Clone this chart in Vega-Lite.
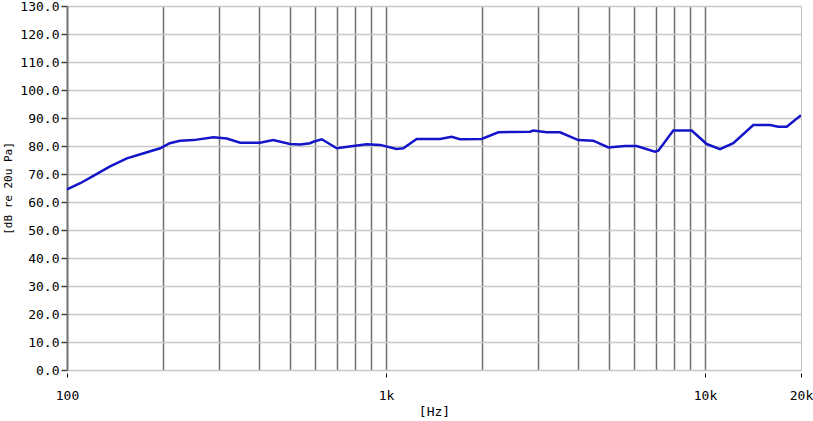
{
  "$schema": "https://vega.github.io/schema/vega-lite/v6.json",
  "autosize": "none",
  "padding": {"left": 67, "top": 6, "right": 12, "bottom": 51},
  "width": 734,
  "height": 364,
  "background": "white",
  "config": {
    "view": {"stroke": "#c0c0c0", "strokeWidth": 1},
    "axis": {"labelFont": "DejaVu Sans Mono", "titleFont": "DejaVu Sans Mono", "labelColor": "#000000", "titleColor": "#000000", "titleFontWeight": "normal"}
  },
  "data": {"values": [
    {"f": 100, "db": 64.5},
    {"f": 110, "db": 66.7},
    {"f": 121, "db": 69.3},
    {"f": 136, "db": 72.6},
    {"f": 154, "db": 75.6},
    {"f": 174, "db": 77.4},
    {"f": 196, "db": 79.2},
    {"f": 210, "db": 81.0},
    {"f": 226, "db": 81.9},
    {"f": 249, "db": 82.1},
    {"f": 288, "db": 83.1},
    {"f": 317, "db": 82.7},
    {"f": 349, "db": 81.2},
    {"f": 403, "db": 81.2},
    {"f": 443, "db": 82.1},
    {"f": 500, "db": 80.7},
    {"f": 538, "db": 80.5},
    {"f": 578, "db": 81.0},
    {"f": 592, "db": 81.5},
    {"f": 629, "db": 82.4},
    {"f": 701, "db": 79.2},
    {"f": 790, "db": 80.0},
    {"f": 870, "db": 80.6},
    {"f": 958, "db": 80.4},
    {"f": 1080, "db": 78.9},
    {"f": 1133, "db": 79.2},
    {"f": 1248, "db": 82.5},
    {"f": 1477, "db": 82.5},
    {"f": 1607, "db": 83.3},
    {"f": 1706, "db": 82.4},
    {"f": 1995, "db": 82.5},
    {"f": 2249, "db": 84.9},
    {"f": 2828, "db": 85.1},
    {"f": 2896, "db": 85.5},
    {"f": 3190, "db": 84.9},
    {"f": 3512, "db": 84.9},
    {"f": 4007, "db": 82.1},
    {"f": 4465, "db": 81.9},
    {"f": 4978, "db": 79.5},
    {"f": 5614, "db": 80.0},
    {"f": 6108, "db": 80.0},
    {"f": 6970, "db": 78.0},
    {"f": 7140, "db": 78.3},
    {"f": 7957, "db": 85.5},
    {"f": 9086, "db": 85.5},
    {"f": 10125, "db": 80.7},
    {"f": 11146, "db": 78.9},
    {"f": 12268, "db": 81.0},
    {"f": 14173, "db": 87.5},
    {"f": 15991, "db": 87.5},
    {"f": 16977, "db": 86.9},
    {"f": 18040, "db": 86.9},
    {"f": 20000, "db": 91.0}
  ]},
  "encoding": {
    "y": {
      "field": "db", "type": "quantitative",
      "scale": {"domain": [0, 130], "nice": false, "zero": true},
      "axis": {
        "title": "[dB re 20u Pa]", "titleFontSize": 11, "titlePadding": 6,
        "values": [0, 10, 20, 30, 40, 50, 60, 70, 80, 90, 100, 110, 120, 130],
        "format": ".1f", "labelFontSize": 13, "labelPadding": 2, "labelOverlap": false, "labelBound": false,
        "grid": true, "gridColor": "#c8c8c8", "gridWidth": 1.5,
        "domainColor": "#707070", "domainWidth": 2,
        "tickColor": "#404040", "tickSize": 6, "tickWidth": 1.5
      }
    }
  },
  "layer": [
    {
      "mark": {"type": "line", "opacity": 0},
      "encoding": {
        "x": {
          "field": "f", "type": "quantitative",
          "scale": {"type": "log", "domain": [100, 20000], "nice": false},
          "axis": {
            "orient": "top", "title": null, "labels": false, "ticks": false, "domain": false,
            "values": [200, 300, 400, 500, 600, 700, 800, 900, 1000, 2000, 3000, 4000, 5000, 6000, 7000, 8000, 9000, 10000],
            "grid": true, "gridColor": "#707070", "gridWidth": 1.5
          }
        }
      }
    },
    {
      "mark": {"type": "line", "color": "#1414c8", "strokeWidth": 2.5, "clip": true},
      "encoding": {
        "x": {
          "field": "f", "type": "quantitative",
          "axis": {
            "title": "[Hz]", "titleFontSize": 13, "titlePadding": 3,
            "values": [100, 1000, 10000, 20000],
            "labelExpr": "datum.value >= 1000 ? format(datum.value/1000, 'd') + 'k' : format(datum.value, 'd')",
            "labelFontSize": 13, "labelPadding": 12, "labelOverlap": false,
            "grid": false, "domain": false,
            "tickColor": "#000000", "tickSize": 4, "offset": 3,
            "labelFlush": false
          }
        }
      }
    }
  ],
  "resolve": {"axis": {"x": "independent"}}
}
